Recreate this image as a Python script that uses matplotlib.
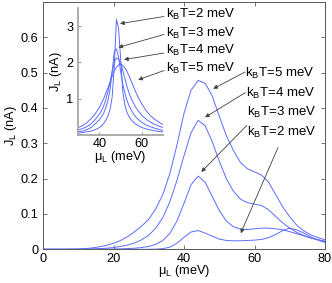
import matplotlib
matplotlib.use("Agg")
import matplotlib.pyplot as plt

plt.rcParams['font.family'] = ['Liberation Sans', 'DejaVu Sans']
plt.rcParams['mathtext.fontset'] = 'custom'
plt.rcParams['mathtext.rm'] = 'Liberation Sans'

# ---------------- data ----------------
mu_main = [0, 2, 4, 6, 8, 10, 12, 14, 16, 18, 20, 22, 24, 26, 28, 30, 32, 34, 36, 38,
           40, 42, 44, 46, 48, 50, 52, 54, 56, 58, 60, 62, 64, 66, 68, 70, 72, 74, 76, 78, 80]
J_T5 = [0, 0, 0, 0, 0.0005, 0.001, 0.002, 0.004, 0.007, 0.011, 0.017, 0.025, 0.036, 0.05,
        0.066, 0.085, 0.115, 0.155, 0.215, 0.295, 0.385, 0.45, 0.478, 0.47, 0.434, 0.377,
        0.322, 0.28, 0.246, 0.228, 0.219, 0.21, 0.19, 0.155, 0.12, 0.092, 0.068, 0.052,
        0.041, 0.033, 0.027]
J_T4 = [0, 0, 0, 0, 0, 0, 0.0005, 0.001, 0.002, 0.003, 0.005, 0.008, 0.012, 0.018, 0.027,
        0.04, 0.06, 0.09, 0.135, 0.195, 0.265, 0.33, 0.365, 0.35, 0.305, 0.25, 0.2, 0.165,
        0.142, 0.132, 0.128, 0.124, 0.112, 0.093, 0.075, 0.06, 0.048, 0.039, 0.032, 0.027,
        0.023]
J_T3 = [0, 0, 0, 0, 0, 0, 0, 0, 0, 0, 0.0005, 0.001, 0.002, 0.003, 0.005, 0.008, 0.014,
        0.025, 0.045, 0.08, 0.13, 0.183, 0.207, 0.19, 0.15, 0.11, 0.08, 0.064, 0.057,
        0.056, 0.058, 0.06, 0.06, 0.058, 0.055, 0.05, 0.044, 0.038, 0.032, 0.027, 0.022]
J_T2 = [0, 0, 0, 0, 0, 0, 0, 0, 0, 0, 0, 0, 0, 0, 0, 0, 0.0005, 0.002, 0.006, 0.017,
        0.034, 0.049, 0.053, 0.046, 0.037, 0.029, 0.025, 0.024, 0.024, 0.025, 0.026,
        0.028, 0.033, 0.042, 0.053, 0.06, 0.055, 0.046, 0.035, 0.026, 0.019]

mu_inset = [30, 32, 34, 36, 38, 40, 41, 42, 43, 44, 45, 46, 47, 48, 49, 50, 51, 52, 53,
            54, 55, 56, 57, 58, 60, 62, 64, 66, 68, 70]
I_T2 = [0.04, 0.06, 0.08, 0.1, 0.14, 0.2, 0.25, 0.31, 0.4, 0.52, 0.7, 1.05, 1.9, 3.2,
        2.95, 2.1, 1.2, 0.82, 0.62, 0.49, 0.41, 0.35, 0.3, 0.26, 0.2, 0.16, 0.13, 0.11,
        0.09, 0.08]
I_T3 = [0.08, 0.1, 0.14, 0.2, 0.3, 0.42, 0.5, 0.6, 0.75, 0.95, 1.25, 1.75, 2.3, 2.38,
        2.15, 1.75, 1.4, 1.15, 0.95, 0.8, 0.68, 0.58, 0.5, 0.44, 0.34, 0.27, 0.22, 0.18,
        0.15, 0.12]
I_T4 = [0.13, 0.17, 0.22, 0.3, 0.42, 0.57, 0.67, 0.8, 0.97, 1.2, 1.45, 1.75, 2.0, 2.12,
        2.1, 1.98, 1.78, 1.55, 1.33, 1.15, 1.0, 0.88, 0.77, 0.68, 0.54, 0.43, 0.35, 0.29,
        0.24, 0.2]
I_T5 = [0.2, 0.25, 0.33, 0.44, 0.58, 0.76, 0.88, 1.0, 1.15, 1.3, 1.46, 1.62, 1.76, 1.87,
        1.93, 1.95, 1.92, 1.85, 1.75, 1.62, 1.48, 1.34, 1.2, 1.07, 0.85, 0.67, 0.53, 0.43,
        0.35, 0.28]

labels = ['k$_\\mathregular{B}$T=5 meV', 'k$_\\mathregular{B}$T=4 meV',
          'k$_\\mathregular{B}$T=3 meV', 'k$_\\mathregular{B}$T=2 meV']
main_xticks = [0, 20, 40, 60, 80]
main_yticks = [0, 0.1, 0.2, 0.3, 0.4, 0.5, 0.6]
inset_xticks = [40, 60]
inset_yticks = [1, 2, 3]

# ---------------- figure ----------------
W, H = 332, 283
fig = plt.figure(figsize=(W / 100, H / 100), dpi=100)

def fx(px):
    return px / W

def fy(py):
    return 1 - py / H

FS = 9.2
FT = 9.5
LC = '#5b6cff'
LW = 0.7

ax = fig.add_axes([fx(43), fy(249.3), fx(325) - fx(43), fy(2) - fy(249.3)])
for J in (J_T5, J_T4, J_T3, J_T2):
    ax.plot(mu_main, J, color=LC, lw=LW)
ax.set_xlim(0, 80)
ax.set_ylim(0, 0.7)
ax.set_xticks(main_xticks)
ax.set_yticks(main_yticks)
ax.set_yticklabels(['0', '0.1', '0.2', '0.3', '0.4', '0.5', '0.6'])
ax.tick_params(direction='in', length=3, width=0.6, color='0.35', labelsize=FS,
               top=True, right=True, pad=2.5)
ax.tick_params(axis='y', pad=3.5)
for s in ax.spines.values():
    s.set_color('0.35')
    s.set_linewidth(0.7)
ax.set_xlabel('μ$_\\mathregular{L}$ (meV)', fontsize=FS, labelpad=-1)
ax.set_ylabel('J$_\\mathregular{L}$ (nA)', fontsize=FS, labelpad=1)

# inset
axi = fig.add_axes([fx(78.3), fy(134.7), fx(163) - fx(78.3), fy(8.3) - fy(134.7)])
for J in (I_T2, I_T3, I_T4, I_T5):
    axi.plot(mu_inset, J, color=LC, lw=LW)
axi.set_xlim(30, 70)
axi.set_ylim(0, 3.5)
axi.set_xticks(inset_xticks)
axi.set_yticks(inset_yticks)
axi.spines['top'].set_visible(False)
axi.spines['right'].set_visible(False)
for side in ('left', 'bottom'):
    axi.spines[side].set_color('0.65')
    axi.spines[side].set_linewidth(1.3)
axi.tick_params(direction='in', length=2.5, width=0.6, color='0.5', labelsize=FS, pad=2.5)
axi.tick_params(axis='y', pad=3.5)
axi.set_xlabel('μ$_\\mathregular{L}$ (meV)', fontsize=FS, labelpad=-1)
axi.set_ylabel('J$_\\mathregular{L}$ (nA)', fontsize=FS, labelpad=2)

# annotations
arrow = dict(arrowstyle='-|>', color='0.25', lw=0.6, mutation_scale=6,
             shrinkA=0, shrinkB=0)

main_tips = [(48.3, 0.4545), (45.96, 0.3736), (44.9, 0.219), (56.1, 0.0455)]
main_starts = [(245, 72), (245.5, 92.5), (246.7, 125.5), (278, 147.5)]
main_text = [(245, 77.3), (245.5, 96.6), (246.7, 115.6), (246.7, 135.6)]
for lab, tip, st, tp in zip(labels, main_tips, main_starts, main_text):
    ax.annotate('', xy=tip, xycoords='data', xytext=(fx(st[0]), fy(st[1])),
                textcoords='figure fraction', arrowprops=arrow)
    fig.text(fx(tp[0]), fy(tp[1]), lab, fontsize=FT, ha='left', va='baseline')

inset_tips = [(58.3, 1.52), (51.6, 2.08), (48.9, 2.417), (49.7, 3.075)]
inset_starts = [(164, 70.5), (164, 53), (164, 34.5), (164, 16.5)]
inset_text = [(165.5, 72.3), (165.5, 54), (165.5, 36.6), (165.5, 18.3)]
for lab, tip, st, tp in zip(labels, inset_tips, inset_starts, inset_text):
    axi.annotate('', xy=tip, xycoords='data', xytext=(fx(st[0]), fy(st[1])),
                 textcoords='figure fraction', arrowprops=arrow)
    fig.text(fx(tp[0]), fy(tp[1]), lab, fontsize=FT, ha='left', va='baseline')

fig.savefig('out.png', dpi=100)
